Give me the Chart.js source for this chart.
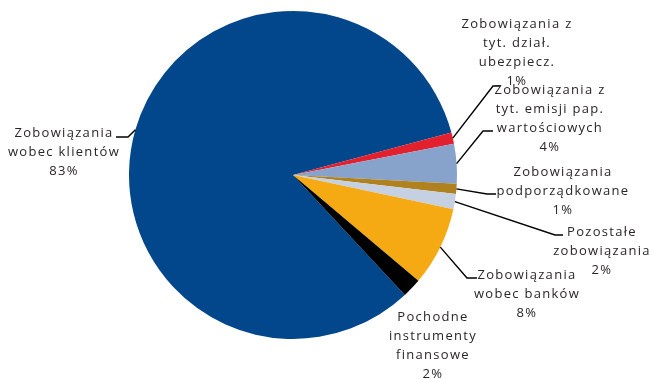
<!DOCTYPE html>
<html>
<head>
<meta charset="utf-8">
<script src="https://cdn.jsdelivr.net/npm/chart.js@4/dist/chart.umd.min.js"></script>
<style>
    html, body { margin: 0; padding: 0; background: #ffffff; }
    #wrap { width: 652px; height: 379px; }
</style>
</head>
<body>
<div id="wrap"><canvas id="pieChart" width="652" height="379"></canvas></div>
<script>
// categories (each label split in lines as on the picture)
var categories = [
    ["Zobowiązania", "wobec klientów"],
    ["Zobowiązania z", "tyt. dział.", "ubezpiecz."],
    ["Zobowiązania z", "tyt. emisji pap.", "wartościowych"],
    ["Zobowiązania", "podporządkowane"],
    ["Pozostałe", "zobowiązania"],
    ["Zobowiązania", "wobec banków"],
    ["Pochodne", "instrumenty", "finansowe"]
];
// share of total, %
var shares = [82.7, 1.1, 3.9, 1.0, 1.5, 7.8, 1.9];
var colors = ["#02468b", "#e3202e", "#88a3cb", "#b0821f", "#c5d1e3", "#f5aa14", "#000000"];

// where each label sits: text centre x, first line y, leader elbow and end
var labelPos = [
    { cx: 64, y: 133, elbow: [128, 137], endX: 116 },
    { cx: 517, y: 24, elbow: [493, 86], endX: 500 },
    { cx: 550, y: 90, elbow: [483, 131], endX: 493 },
    { cx: 563, y: 172, elbow: [487, 194], endX: 496 },
    { cx: 602, y: 232, elbow: [555, 235], endX: 563 },
    { cx: 527, y: 275, elbow: [467, 278], endX: 477 },
    { cx: 433, y: 317, elbow: null, endX: null }
];

var lineHeight = 19;

var pieLabels = {
    id: "pieLabels",
    afterDraw: function (chart) {
        var ctx = chart.ctx;
        var meta = chart.getDatasetMeta(0);
        var total = shares.reduce(function (a, b) { return a + b; }, 0);
        ctx.save();
        ctx.font = "13px 'Open Sans'";
        ctx.letterSpacing = "1.3px";
        ctx.fillStyle = "#2a2627";
        ctx.strokeStyle = "#000000";
        ctx.lineWidth = 1.4;
        ctx.textAlign = "center";
        ctx.textBaseline = "middle";
        meta.data.forEach(function (arc, i) {
            var p = labelPos[i];
            if (p.elbow) {
                var mid = (arc.startAngle + arc.endAngle) / 2;
                var sx = arc.x + Math.cos(mid) * arc.outerRadius;
                var sy = arc.y + Math.sin(mid) * arc.outerRadius;
                ctx.beginPath();
                ctx.moveTo(sx, sy);
                ctx.lineTo(p.elbow[0], p.elbow[1]);
                ctx.lineTo(p.endX, p.elbow[1]);
                ctx.stroke();
            }
            var lines = categories[i].concat([Math.round(shares[i] / total * 100) + "%"]);
            lines.forEach(function (txt, k) {
                ctx.fillText(txt, p.cx, p.y + k * lineHeight);
            });
        });
        ctx.restore();
    }
};

var ctx = document.getElementById("pieChart").getContext("2d");
var nutritionalChart = new Chart(ctx, {
    type: "pie",
    data: {
        labels: categories,
        datasets: [{
            data: shares,
            backgroundColor: colors,
            borderWidth: 0
        }]
    },
    options: {
        responsive: false,
        animation: false,
        rotation: 137,
        layout: { padding: { left: 129, right: 195, top: 11, bottom: 40 } },
        plugins: {
            legend: { display: false },
            tooltip: { enabled: false }
        }
    },
    plugins: [pieLabels]
});
</script>
</body>
</html>
